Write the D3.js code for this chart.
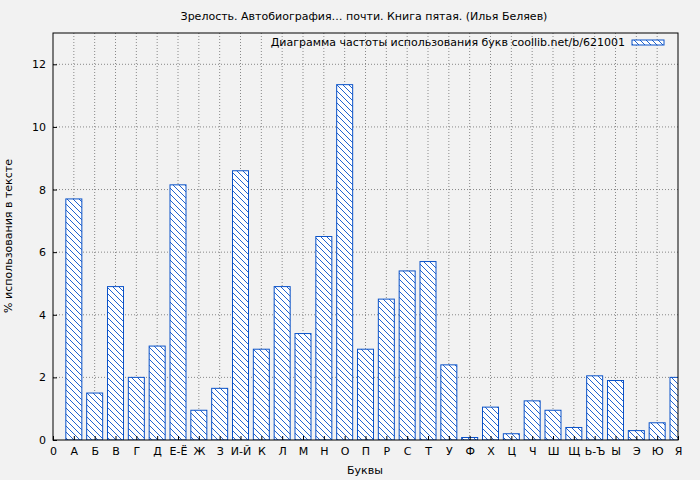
<!DOCTYPE html>
<html><head><meta charset="utf-8">
<script src="https://cdn.jsdelivr.net/npm/d3@7"></script>
<style>body{margin:0;background:#f2f2f2}text{font-family:"DejaVu Sans",sans-serif}</style>
</head><body><svg id="c" width="700" height="480"></svg>
<script>
var letters = ["А","Б","В","Г","Д","Е-Ё","Ж","З","И-Й","К","Л","М","Н","О","П","Р","С","Т","У","Ф","Х","Ц","Ч","Ш","Щ","Ь-Ъ","Ы","Э","Ю","Я"];
var freq = [7.7,1.5,4.9,2.0,3.0,8.15,0.95,1.65,8.6,2.9,4.9,3.4,6.5,11.35,2.9,4.5,5.4,5.7,2.4,0.08,1.05,0.2,1.25,0.95,0.4,2.05,1.9,0.3,0.55,2.0];
var yTicks = [0,2,4,6,8,10,12];

var svg = d3.select("#c");
var L = 53, R = 678, T = 33, B = 440;
var x = d3.scaleLinear().domain([0, 30]).range([L, R]);
var y = d3.scaleLinear().domain([0, 13]).range([B, T]);
var blue = "#0a52c8";

var defs = svg.append("defs");
var pat = defs.append("pattern").attr("id","hatch").attr("patternUnits","userSpaceOnUse")
  .attr("width",6).attr("height",6);
pat.append("rect").attr("width",6).attr("height",6).attr("fill","#fff");
pat.append("path").attr("d","M-1,-1 L7,7 M-1,5 L1,7 M5,-1 L7,1").attr("stroke",blue).attr("stroke-width",0.9);
defs.append("clipPath").attr("id","clip").append("rect").attr("x",L).attr("y",T).attr("width",R-L).attr("height",B-T);

svg.append("rect").attr("x",L).attr("y",T).attr("width",R-L).attr("height",B-T).attr("fill","#f2f2f2");

// grid
svg.append("g").selectAll("line").data(d3.range(1,30)).enter().append("line")
  .attr("x1",d=>x(d)).attr("x2",d=>x(d)).attr("y1",T).attr("y2",B)
  .attr("stroke","#888").attr("stroke-dasharray","1,2");
svg.append("g").selectAll("line").data(yTicks.slice(1)).enter().append("line")
  .attr("x1",L).attr("x2",R).attr("y1",d=>y(d)).attr("y2",d=>y(d))
  .attr("stroke","#888").attr("stroke-dasharray","1,2");

// bars
var bw = 16;
svg.append("g").attr("clip-path","url(#clip)").selectAll("rect").data(freq).enter().append("rect")
  .attr("x",(d,i)=>x(i+1)-bw/2).attr("width",bw)
  .attr("y",d=>y(d)).attr("height",d=>B-y(d))
  .attr("fill","url(#hatch)").attr("stroke",blue).attr("stroke-width",1);

svg.append("rect").attr("x",L).attr("y",T).attr("width",R-L).attr("height",B-T)
  .attr("fill","none").attr("stroke","#000");

// axes
var xa = svg.append("g").attr("transform","translate(0,"+B+")")
  .call(d3.axisBottom(x).tickValues(d3.range(0,31)).tickSize(4).tickFormat(d=>d==0?"0":letters[d-1]));
var ya = svg.append("g").attr("transform","translate("+L+",0)")
  .call(d3.axisLeft(y).tickValues(yTicks).tickSize(4));
[xa,ya].forEach(function(a){a.select(".domain").remove();a.selectAll("text").attr("font-size",11).attr("font-family","DejaVu Sans").attr("fill","#000");});
xa.selectAll(".tick line").attr("y2",-4);
ya.selectAll(".tick line").attr("x2",4);

svg.append("text").attr("x",364).attr("y",20).attr("text-anchor","middle").attr("font-size",11)
  .text("Зрелость. Автобиография… почти. Книга пятая. (Илья Беляев)");
svg.append("text").attr("x",365).attr("y",474).attr("text-anchor","middle").attr("font-size",11).text("Буквы");
svg.append("text").attr("transform","translate(12,236) rotate(-90)").attr("text-anchor","middle").attr("font-size",11)
  .text("% использования в тексте");

// legend
svg.append("text").attr("x",625).attr("y",46).attr("text-anchor","end").attr("font-size",11)
  .text("Диаграмма частоты использования букв coollib.net/b/621001");
svg.append("rect").attr("x",632).attr("y",40).attr("width",32).attr("height",5)
  .attr("fill","url(#hatch)").attr("stroke",blue);
</script></body></html>
